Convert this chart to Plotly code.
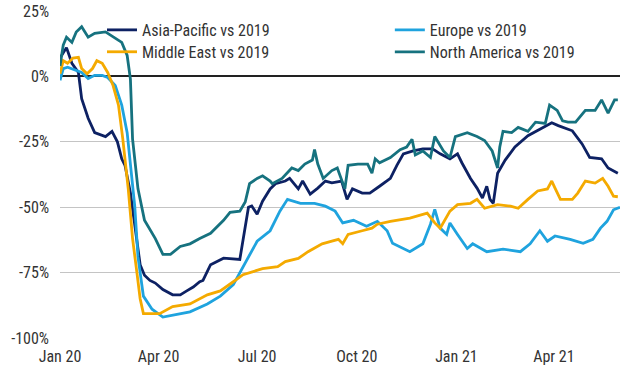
import pandas as pd
import plotly.graph_objects as go

# Day offsets since 2020-01-01 and values (% vs 2019)
ap_days = [0, 6, 11, 17, 20, 26, 32, 42, 48, 53, 57, 60, 65, 69, 74, 78, 83, 88, 95, 104, 111, 117, 123, 129, 132, 139, 151, 166, 169, 174, 177, 182, 187, 194, 199, 208, 212, 220, 224, 231, 238, 245, 251, 260, 265, 270, 279, 286, 295, 305, 311, 317, 326, 335, 344, 351, 360, 367, 371, 379, 385, 390, 394, 397, 400, 404, 411, 420, 432, 445, 454, 460, 473, 482, 489, 500, 506, 515]
ap_vals = [7, 11, 5, 1.5, -8.5, -16, -21.5, -23, -21, -25, -31.5, -34, -44.5, -56, -72, -76, -78, -79, -81.5, -83.5, -83.5, -82, -80.5, -78.5, -78, -72, -69.5, -70, -63, -50, -49.5, -52.7, -47.7, -43, -41, -40, -39, -43, -40, -45, -42.7, -40, -40.7, -40, -47, -43, -44.6, -44.6, -42, -39, -34, -29.6, -28.5, -27.7, -27.7, -29.6, -31.5, -29.6, -33, -39, -42.7, -46.5, -42, -47, -48.5, -37, -32, -27, -22.7, -19.6, -17.7, -18.8, -20.8, -25.8, -31, -31.5, -35, -37]

eu_days = [0, 3, 7, 14, 20, 26, 32, 39, 44, 51, 57, 62, 65, 69, 72, 77, 85, 95, 108, 120, 136, 148, 160, 173, 182, 194, 203, 210, 222, 235, 245, 254, 261, 271, 283, 293, 302, 307, 323, 335, 342, 346, 351, 357, 360, 367, 376, 381, 394, 409, 425, 434, 443, 450, 457, 471, 483, 492, 499, 505, 511, 517]
eu_vals = [-1.5, 3, 3.5, 2.3, 1.5, -0.8, 0.4, 0.4, -0.4, -3.5, -11, -21.5, -33, -49.6, -69, -84, -89, -92, -91, -90, -87, -84, -79.6, -69.6, -63, -59, -51.5, -47, -48.5, -48.5, -49.6, -51.5, -56, -55, -57.3, -55.4, -59, -63.8, -67, -64, -56.5, -50.8, -58, -60.4, -56, -60.4, -65.8, -64, -67, -66, -67, -64, -59, -63, -61, -62.3, -63.8, -62.3, -58, -55.4, -51, -50]

me_days = [0, 3, 7, 12, 17, 20, 25, 30, 34, 39, 44, 49, 54, 58, 63, 67, 71, 74, 77, 88, 92, 104, 120, 136, 148, 160, 169, 187, 201, 208, 220, 229, 242, 251, 257, 261, 266, 279, 288, 293, 305, 323, 339, 346, 351, 360, 367, 379, 385, 392, 404, 416, 423, 432, 441, 450, 454, 457, 462, 473, 478, 485, 494, 501, 506, 511, 515]
me_vals = [1, 6, 5, 7, 7.3, 3, 1, 3, 6, 5, 1.5, -3.5, -11, -24, -43, -62, -75, -85, -90.7, -90.7, -90.7, -88, -87, -83.5, -82, -78.5, -75.8, -73.5, -72.7, -70.8, -69.6, -67, -64, -63, -62.3, -64, -60.4, -59, -58, -56.5, -55.4, -54.2, -52.3, -56, -58, -51.5, -49, -48.5, -47, -50.4, -49, -49.6, -50.4, -47, -43.8, -43, -40, -42.7, -47, -47, -44.6, -40, -40.8, -39, -42, -45.8, -46]

na_days = [0, 3, 6, 11, 15, 20, 26, 32, 42, 49, 57, 62, 65, 67, 72, 78, 88, 95, 102, 111, 120, 129, 139, 151, 157, 166, 171, 175, 182, 187, 194, 196, 205, 214, 220, 226, 233, 235, 238, 243, 251, 256, 263, 266, 275, 284, 288, 291, 295, 305, 314, 320, 325, 328, 335, 342, 346, 354, 360, 365, 376, 385, 392, 399, 404, 406, 409, 417, 423, 432, 439, 448, 452, 459, 464, 469, 476, 485, 494, 500, 506, 512, 515]
na_vals = [4, 12, 15, 13, 17, 19, 15, 16.5, 17, 15, 13, 8, -1, -24, -43, -55, -62, -68, -68, -65, -64, -62, -60, -55, -52, -51.5, -48, -41, -39, -38, -40, -41, -39, -35, -36, -33.5, -32, -28, -33.5, -39, -36, -35, -43, -34, -33.5, -33.5, -37, -31.5, -33, -31, -28, -27, -24, -30, -28.5, -31, -23, -28.5, -31, -23, -21.5, -23, -24.5, -28.5, -35, -27, -21, -21.5, -19.5, -21, -17.5, -18, -11, -13, -17, -17.5, -17.5, -13, -13, -9, -14, -9, -9]

tick_dates = ["2020-01-01", "2020-04-01", "2020-07-01", "2020-10-01", "2021-01-01", "2021-04-01"]
tick_text = ["Jan 20", "Apr 20", "Jul 20", "Oct 20", "Jan 21", "Apr 21"]
y_ticks = [25, 0, -25, -50, -75, -100]
y_text = ["25%", "0%", "-25%", "-50%", "-75%", "-100%"]

base = pd.Timestamp("2020-01-01")


def to_dates(days):
    return [base + pd.Timedelta(days=d) for d in days]


FONT = "Liberation Sans Narrow, Arial Narrow, Roboto Condensed, Roboto, sans-serif"

fig = go.Figure()
series = [
    ("Asia-Pacific vs 2019", ap_days, ap_vals, "#0d2163", "legend"),
    ("Europe vs 2019", eu_days, eu_vals, "#1fa3de", "legend2"),
    ("Middle East vs 2019", me_days, me_vals, "#f4aa00", "legend3"),
    ("North America vs 2019", na_days, na_vals, "#16727f", "legend4"),
]
for name, d, v, c, lg in series:
    fig.add_trace(go.Scatter(x=to_dates(d), y=v, mode="lines", name=name,
                             line=dict(color=c, width=2.8), legend=lg))


def leg(x, y):
    return dict(x=x, y=y, xanchor="left", yanchor="middle",
                bgcolor="rgba(0,0,0,0)", font=dict(size=16, color="#333333"),
                itemwidth=30)


fig.update_layout(
    width=630, height=376,
    margin=dict(l=60, r=10, t=11, b=38),
    paper_bgcolor="white", plot_bgcolor="white",
    font=dict(family=FONT, size=16, color="#333333"),
    showlegend=True,
    legend=leg(0.075, 0.942),
    legend2=leg(0.589, 0.942),
    legend3=leg(0.075, 0.875),
    legend4=leg(0.589, 0.875),
)
fig.update_xaxes(range=[base, base + pd.Timedelta(days=517)],
                 tickvals=tick_dates, ticktext=tick_text, automargin=False,
                 showgrid=False, showline=False, zeroline=False, ticks="",
                 ticklabelstandoff=7,
                 tickfont=dict(size=16, color="#333333"))
fig.update_yaxes(range=[-100, 25], tickvals=y_ticks, ticktext=y_text,
                 automargin=False,
                 showgrid=True, gridcolor="#c4c4c4", gridwidth=1,
                 zeroline=True, zerolinecolor="#222222", zerolinewidth=2,
                 showline=False, ticks="", ticklabelstandoff=10,
                 tickfont=dict(size=16, color="#333333"))

fig.write_html("out.html", config={"displayModeBar": False},
               post_script="document.body.style.margin='0';")
